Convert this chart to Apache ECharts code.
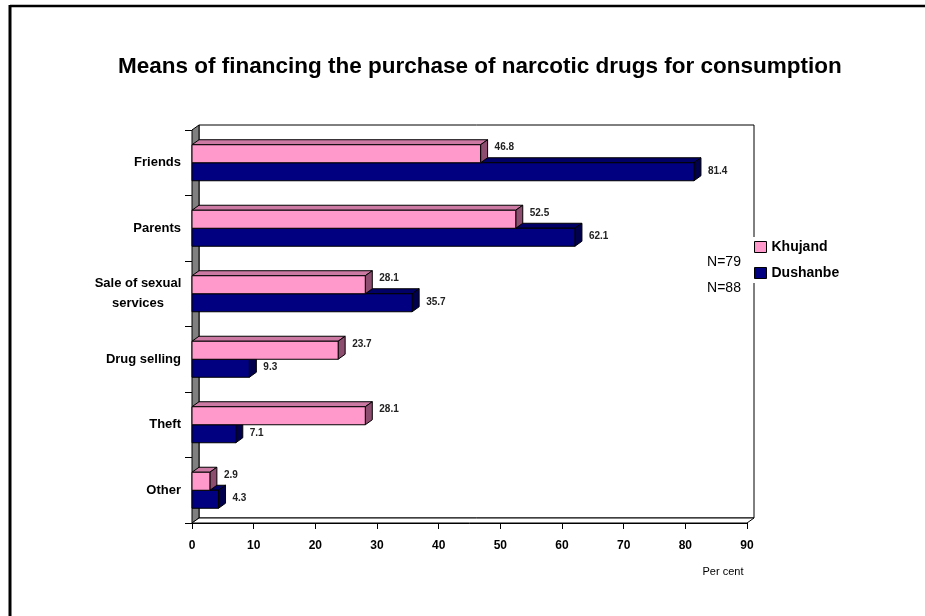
<!DOCTYPE html>
<html><head><meta charset="utf-8">
<script src="https://cdn.jsdelivr.net/npm/echarts@6/dist/echarts.min.js"></script>
<style>html,body{margin:0;padding:0;background:#fff}#c{width:925px;height:616px}</style>
</head><body><div id="c"></div>
<script>
// ---- data ----
const categories = ['Friends', 'Parents', 'Sale of sexual services', 'Drug selling', 'Theft', 'Other'];
const khujand = [46.8, 52.5, 28.1, 23.7, 28.1, 2.9];
const dushanbe = [81.4, 62.1, 35.7, 9.3, 7.1, 4.3];
const seriesNames = ['Khujand', 'Dushanbe'];
const sampleNotes = ['N=79', 'N=88'];
const xMin = 0, xMax = 90, xStep = 10;
const titleText = 'Means of financing the purchase of narcotic drugs for consumption';
const axisName = 'Per cent';

// ---- style ----
const FONT = '"Liberation Sans", Arial, sans-serif';
const DX = 7, DY = -5;
const palettes = [
  { front: '#FF99CC', top: '#CC7AA3', side: '#8C4D6E' },
  { front: '#000080', top: '#000066', side: '#00004D' }
];
const G = { left: 192, top: 130, width: 555, height: 393 };

function makeRender(slot) {
  const pal = palettes[slot];
  return function (params, api) {
    const idx = api.value(0), val = api.value(1);
    const base = api.coord([0, idx]);
    const end = api.coord([val, idx]);
    const band = api.size([0, 1])[1];
    const th = band * 0.275;
    const y0 = slot === 0 ? base[1] - th : base[1];
    const y1 = y0 + th;
    const x0 = base[0], x1 = end[0];
    const ln = { stroke: '#000', lineWidth: 1 };
    const labelDy = slot === 0 ? -6 : -1;
    return {
      type: 'group',
      children: [
        { type: 'polygon', shape: { points: [[x0, y0], [x1, y0], [x1 + DX, y0 + DY], [x0 + DX, y0 + DY]] },
          style: Object.assign({ fill: pal.top }, ln) },
        { type: 'polygon', shape: { points: [[x1, y0], [x1 + DX, y0 + DY], [x1 + DX, y1 + DY], [x1, y1]] },
          style: Object.assign({ fill: pal.side }, ln) },
        { type: 'rect', shape: { x: x0, y: y0, width: x1 - x0, height: th },
          style: Object.assign({ fill: pal.front }, ln) },
        { type: 'text', style: { text: val.toFixed(1), x: x1 + DX + 7, y: (y0 + y1) / 2 + labelDy,
          align: 'left', verticalAlign: 'middle', fill: '#222', font: 'bold 10px ' + FONT } }
      ]
    };
  };
}

const chart = echarts.init(document.getElementById('c'), null, { renderer: 'canvas' });
const option = {
  animation: false,
  backgroundColor: '#fff',
  title: {
    text: titleText, left: 118, top: 55, padding: 0,
    textStyle: { fontFamily: FONT, fontSize: 22.5, fontWeight: 'bold', color: '#000' }
  },
  legend: {
    orient: 'vertical', left: 751, top: 237, icon: 'rect',
    itemWidth: 12, itemHeight: 11, itemGap: 12,
    backgroundColor: '#fff', padding: [3, 2, 3, 3],
    textStyle: { fontFamily: FONT, fontSize: 14, fontWeight: 'bold', color: '#000' },
    data: seriesNames.map((n, i) => ({ name: n, itemStyle: { color: palettes[i].front, borderColor: '#000', borderWidth: 1 } }))
  },
  grid: { left: G.left, top: G.top, width: G.width, height: G.height, containLabel: false },
  xAxis: {
    type: 'value', min: xMin, max: xMax, interval: xStep,
    axisLine: { show: true, lineStyle: { color: '#000', width: 1 } },
    axisTick: { show: true, length: 6, lineStyle: { color: '#000' } },
    splitLine: { show: false },
    axisLabel: { margin: 17, fontFamily: FONT, fontSize: 12, fontWeight: 'bold', color: '#000' }
  },
  yAxis: {
    type: 'category', data: categories, inverse: true,
    axisLine: { show: true, lineStyle: { color: '#000', width: 1 } },
    axisTick: { show: true, length: 7, lineStyle: { color: '#000' } },
    axisLabel: {
      margin: 11, fontFamily: FONT, fontSize: 13, fontWeight: 'bold', color: '#000', lineHeight: 20,
      formatter: function (v) {
        if (v === 'Sale of sexual services') return '{c|Sale of sexual}\n{c|services}';
        return v;
      },
      rich: { c: { width: 86, align: 'center', fontFamily: FONT, fontSize: 13, fontWeight: 'bold', color: '#000', lineHeight: 20 } }
    }
  },
  series: [
    { name: seriesNames[1], type: 'custom', z: 2, renderItem: makeRender(1),
      itemStyle: { color: palettes[1].front }, encode: { x: 1, y: 0 },
      data: dushanbe.map((v, i) => [i, v]) },
    { name: seriesNames[0], type: 'custom', z: 3, renderItem: makeRender(0),
      itemStyle: { color: palettes[0].front }, encode: { x: 1, y: 0 },
      data: khujand.map((v, i) => [i, v]) }
  ]
};
chart.setOption(option);

// 3D walls, frame and extra texts
const L = G.left, T = G.top, R = G.left + G.width, B = G.top + G.height;
chart.setOption({
  graphic: [
    { type: 'rect', z: 0, silent: true, shape: { x: L + DX, y: T + DY, width: G.width, height: G.height },
      style: { fill: '#fff', stroke: '#000', lineWidth: 1 } },
    { type: 'polygon', z: 1, silent: true, shape: { points: [[L, T], [L + DX, T + DY], [L + DX, B + DY], [L, B]] },
      style: { fill: '#808080', stroke: '#000', lineWidth: 1 } },
    { type: 'polygon', z: 1, silent: true, shape: { points: [[L, B], [L + DX, B + DY], [R + DX, B + DY], [R, B]] },
      style: { fill: '#fff', stroke: '#000', lineWidth: 1 } },
    { type: 'line', z: 10, silent: true, shape: { x1: 10, y1: 6, x2: 925, y2: 6 }, style: { stroke: '#000', lineWidth: 2.5 } },
    { type: 'line', z: 10, silent: true, shape: { x1: 10, y1: 5, x2: 10, y2: 616 }, style: { stroke: '#000', lineWidth: 3 } },
    { type: 'text', z: 10, silent: true, style: { text: axisName, x: 723, y: 572, align: 'center', verticalAlign: 'middle',
      font: '11px ' + FONT, fill: '#000' } },
    { type: 'text', z: 10, silent: true, style: { text: sampleNotes[0], x: 724, y: 262, align: 'center', verticalAlign: 'middle',
      font: '14px ' + FONT, fill: '#000' } },
    { type: 'text', z: 10, silent: true, style: { text: sampleNotes[1], x: 724, y: 288, align: 'center', verticalAlign: 'middle',
      font: '14px ' + FONT, fill: '#000' } }
  ]
});
</script></body></html>
